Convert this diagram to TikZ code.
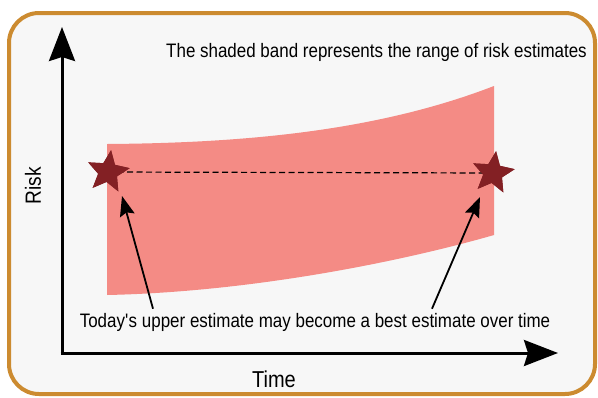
\documentclass[tikz,border=0pt]{standalone}
\usepackage{fontspec}
\setmainfont{Liberation Sans}[FakeStretch=0.87]
\usetikzlibrary{arrows.meta,shapes.geometric}
\definecolor{frameorange}{RGB}{204,139,48}
\definecolor{bgcol}{RGB}{247,247,247}
\definecolor{bandcol}{RGB}{244,139,133}
\definecolor{starcol}{RGB}{131,32,36}
\tikzset{
  axis/.style={line width=3pt,-{Stealth[length=34pt,width=26pt,inset=4pt]}},
  pointer/.style={line width=1.8pt,-{Stealth[length=20pt,width=15pt,inset=3pt]}},
  starmark/.style={star,star points=5,star point ratio=2.2,minimum size=44pt,inner sep=0pt,fill=starcol,draw=none},
  lbl/.style={inner sep=0pt,font=\fontsize{19.5}{22}\selectfont}
}
\begin{document}
\begin{tikzpicture}[x=1pt,y=-1pt]
\useasboundingbox (0,0) rectangle (598,397);
\draw[frameorange,line width=4pt,fill=bgcol,rounded corners=30pt] (9,13) rectangle (595,394);
% band
\fill[bandcol] (107,144) .. controls (250,143) and (380,130) .. (494,86)
  -- (494,235) .. controls (400,262) and (250,292) .. (107,295) -- cycle;
% axes
\coordinate (origin) at (62,353);
\coordinate (ytip) at (62,27);
\coordinate (xtip) at (558,353);
\draw[axis] (origin) -- (ytip);
\draw[axis] ([xshift=-1.5pt]origin) -- (xtip);
% stars and dashed line
\node[starmark,rotate=-8] (s1) at (108,172) {};
\node[starmark,rotate=-8] (s2) at (493,173) {};
\draw[line width=1.2pt,dash pattern=on 6pt off 3.5pt] (s1.center) -- (s2.center);
\node[starmark,rotate=-8] at (s1.center) {};
\node[starmark,rotate=-8] at (s2.center) {};
% texts
\node[lbl] (top) at (376.5,52) {The shaded band represents the range of risk estimates};
\node[lbl] (bot) at (315,322) {Today\textquotesingle s upper estimate may become a best estimate over time};
\node[inner sep=0pt,font=\fontsize{23}{26}\selectfont] (time) at (274,379) {Time};
\node[inner sep=0pt,font=\fontsize{22}{26}\selectfont,rotate=90] (risk) at (33,186) {Risk};
% pointers
\coordinate (p1) at (122,196);
\coordinate (p2) at (480,197);
\draw[pointer] ([xshift=-162pt,yshift=4pt]bot.north) -- (p1);
\draw[pointer] ([xshift=117pt,yshift=4pt]bot.north) -- (p2);
\end{tikzpicture}
\end{document}
